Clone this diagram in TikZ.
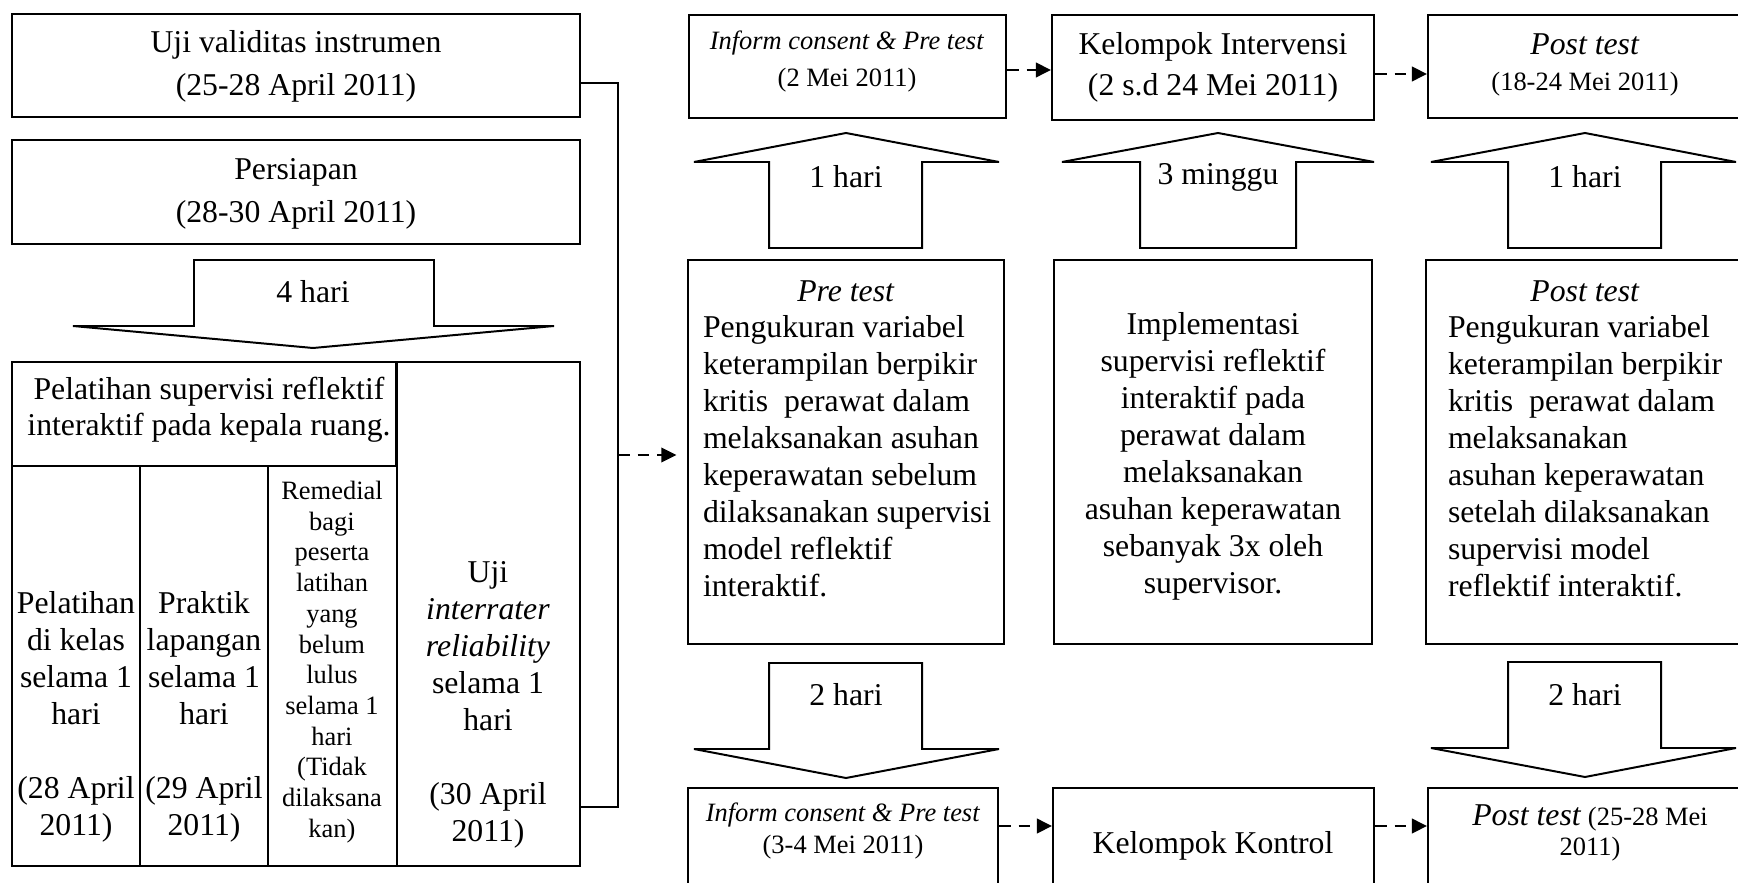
\documentclass[tikz,border=0pt]{standalone}
\usepackage{fontspec}
\setmainfont{Liberation Serif}
\usetikzlibrary{fit,arrows.meta}
\begin{document}
\begin{tikzpicture}[x={(0.378pt,0pt)}, y={(0pt,-0.378pt)}, line width=0.75pt,
  box/.style={draw, fill=white, inner sep=0pt},
  txt/.style={inner sep=0pt, align=center},
  bigarrow/.style={draw, fill=white, line join=miter},
  dasharrow/.style={dash pattern=on 4.4pt off 3pt, -{Triangle[length=5.7pt,width=5.5pt]}},
  ftop/.style={font=\fontsize{12}{16.25}\selectfont},
  fbody/.style={font=\fontsize{12}{14}\selectfont},
  fsmall/.style={font=\fontsize{10}{13.9}\selectfont},
  fremed/.style={font=\fontsize{10}{11.6}\selectfont}]
\useasboundingbox (0,0) rectangle (1738,883);
\clip (0,0) rectangle (1738,883);

% ---------- left column ----------
\node[box, fit={(12,14) (580,117)}] (uji) {};
\node[txt, ftop] (ujitext) at (296,66.5) {Uji validitas instrumen\\(25-28 April 2011)};
\node[box, fit={(12,140) (580,244)}] (prep) {};
\node[txt, ftop] (preptext) at (296,193.5) {Persiapan\\(28-30 April 2011)};
\draw[bigarrow] (194,260) -- (434,260) -- (434,326) -- (554,326) -- (313,348) -- (73,326) -- (194,326) -- cycle;
\node[txt, fbody] (a4) at (313,292) {4 hari};

\node[box, fit={(12,362) (580,866)}] (tbl) {};
\node[box, fit={(12,362) (396,466)}] (thead) {};
\node[txt, font=\fontsize{12}{13.6}\selectfont] (theadtext) at (209,410) {Pelatihan supervisi reflektif\\interaktif pada kepala ruang.};
\draw (thead.north east) -- (thead.north east |- tbl.south);
\draw (140,0 |- thead.south) -- (140,0 |- tbl.south);
\draw (268,0 |- thead.south) -- (268,0 |- tbl.south);
\node[txt, fbody] (c1) at (76,717) {Pelatihan\\di kelas\\selama 1\\hari\\\mbox{}\\(28 April\\2011)};
\node[txt, fbody] (c2) at (204,717) {Praktik\\lapangan\\selama 1\\hari\\\mbox{}\\(29 April\\2011)};
\node[txt, fremed] (c3) at (332,662) {Remedial\\bagi\\peserta\\latihan\\yang\\belum\\lulus\\selama 1\\hari\\(Tidak\\dilaksana\\kan)};
\node[txt, fbody] (c4) at (488,705) {Uji\\\textit{interrater}\\\textit{reliability}\\selama 1\\hari\\\mbox{}\\(30 April\\2011)};

% bracket connector
\coordinate (brT) at (618,83);
\coordinate (brB) at (618,807);
\coordinate (brM) at (618,455);
\draw (uji.east |- brT) -- (brT) -- (brB) -- (tbl.east |- brB);

% ---------- top row ----------
\node[box, fit={(689,15) (1006,118)}] (inf1) {};
\node[txt, fsmall] (inf1text) at (847,61.5) {\textit{Inform consent \& Pre test}\\(2 Mei 2011)};
\node[box, fit={(1052,15) (1374,120)}] (kel1) {};
\node[txt, font=\fontsize{12}{15.5}\selectfont] (kel1text) at (1213,67.5) {Kelompok Intervensi\\(2 s.d 24 Mei 2011)};
\node[box, fit={(1428,15) (1742,118)}] (post1) {};
\node[txt, font=\fontsize{10}{13.6}\selectfont] (post1text) at (1585,65) {{\fontsize{12}{13.6}\selectfont\textit{Post test}}\\(18-24 Mei 2011)};
\coordinate (rowA) at (0,70);
\coordinate (rowA2) at (0,74);
\draw[dasharrow] (inf1.east |- rowA) -- (kel1.west |- rowA);
\draw[dasharrow] (kel1.east |- rowA2) -- (post1.west |- rowA2);

% up arrows
\draw[bigarrow] (769,248) -- (922,248) -- (922,162) -- (999,162) -- (846,133) -- (694,162) -- (769,162) -- cycle;
\node[txt, fbody] (u1) at (846,177) {1 hari};
\draw[bigarrow] (1140,248) -- (1296,248) -- (1296,162) -- (1374,162) -- (1218,133) -- (1062,162) -- (1140,162) -- cycle;
\node[txt, fbody] (u2) at (1218,177) {3 minggu};
\draw[bigarrow] (1508,248) -- (1661,248) -- (1661,162) -- (1736,162) -- (1585,133) -- (1431,162) -- (1508,162) -- cycle;
\node[txt, fbody] (u3) at (1585,177) {1 hari};

% ---------- middle row ----------
\node[box, fit={(688,260) (1004,644)}] (pre) {};
\node[txt, fbody] (pretitle) at (846,291) {\textit{Pre test}};
\node[txt, fbody, align=left, anchor=west] (prebody) at (702,456) {Pengukuran variabel\\keterampilan berpikir\\kritis~ perawat dalam\\melaksanakan asuhan\\keperawatan sebelum\\dilaksanakan supervisi\\model reflektif\\interaktif.};
\draw[dasharrow, shorten >=4pt] (brM) -- (brM -| pre.west);

\node[box, fit={(1054,260) (1372,644)}] (impl) {};
\node[txt, fbody] (impltext) at (1213,456) {Implementasi\\supervisi reflektif\\interaktif pada\\perawat dalam\\melaksanakan\\asuhan keperawatan\\sebanyak 3x oleh\\supervisor.};

\node[box, fit={(1426,260) (1742,644)}] (post2) {};
\node[txt, fbody] (posttitle) at (1585,291) {\textit{Post test}};
\node[txt, fbody, align=left, anchor=west] (postbody) at (1447,456) {Pengukuran variabel\\keterampilan berpikir\\kritis~ perawat dalam\\melaksanakan\\asuhan keperawatan\\setelah dilaksanakan\\supervisi model\\reflektif interaktif.};

% down arrows
\draw[bigarrow] (769,663) -- (922,663) -- (922,749) -- (999,749) -- (846,778) -- (694,749) -- (769,749) -- cycle;
\node[txt, fbody] (d1) at (846,695) {2 hari};
\draw[bigarrow] (1508,662) -- (1661,662) -- (1661,748) -- (1736,748) -- (1585,777) -- (1431,748) -- (1508,748) -- cycle;
\node[txt, fbody] (d2) at (1585,695) {2 hari};

% ---------- bottom row ----------
\node[box, fit={(688,788) (998,905)}] (inf2) {};
\node[txt, font=\fontsize{10}{12}\selectfont] (inf2text) at (843,831) {\textit{Inform consent \& Pre test}\\(3-4 Mei 2011)};
\node[box, fit={(1053,788) (1374,905)}] (kk) {};
\node[txt, fbody] (kktext) at (1213,846) {Kelompok Kontrol};
\node[box, fit={(1428,788) (1742,905)}] (post3) {};
\node[txt, font=\fontsize{10}{11.3}\selectfont] (post3text) at (1590,833) {{\fontsize{12}{11.3}\selectfont\textit{Post test}} (25-28 Mei\\2011)};
\coordinate (rowB) at (0,826);
\draw[dasharrow] (inf2.east |- rowB) -- (kk.west |- rowB);
\draw[dasharrow] (kk.east |- rowB) -- (post3.west |- rowB);
\end{tikzpicture}
\end{document}
